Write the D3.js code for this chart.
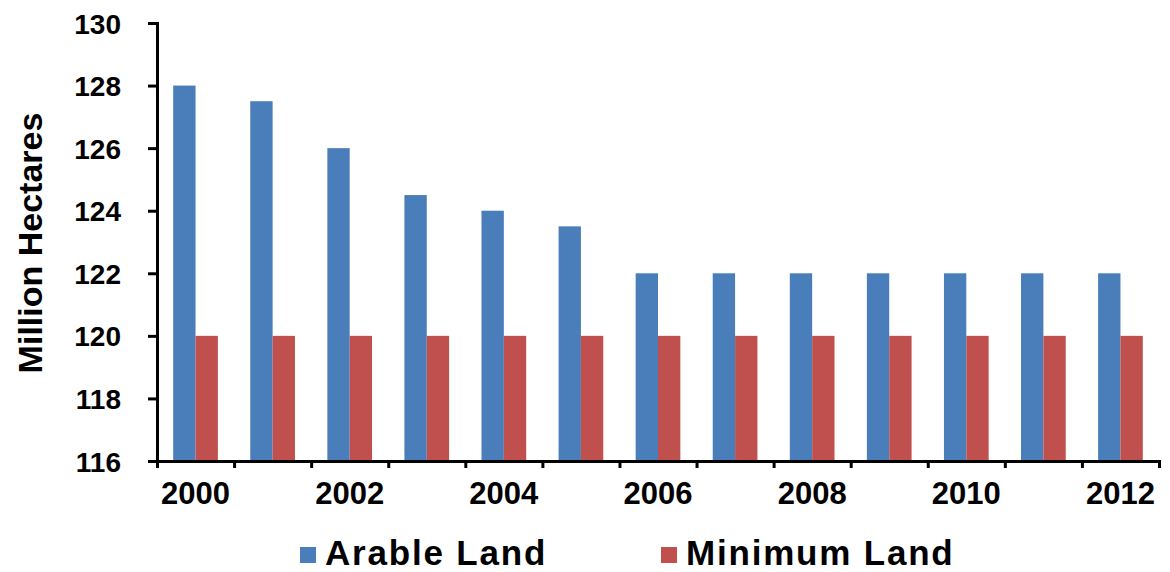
<!DOCTYPE html>
<html>
<head>
<meta charset="utf-8">
<script src="https://cdn.jsdelivr.net/npm/d3@7"></script>
<style>
  html, body { margin: 0; padding: 0; background: #fff; }
  svg { display: block; }
  text { font-family: "Liberation Sans", Arial, sans-serif; font-weight: bold; fill: #000; }
</style>
</head>
<body>
<svg id="chart" width="1170" height="572"></svg>
<script>
// Land area per year (million hectares)
const years = [2000, 2001, 2002, 2003, 2004, 2005, 2006, 2007, 2008, 2009, 2010, 2011, 2012];
const arableLand = [128, 127.5, 126, 124.5, 124, 123.5, 122, 122, 122, 122, 122, 122, 122];
const minimumLand = [120, 120, 120, 120, 120, 120, 120, 120, 120, 120, 120, 120, 120];
const seriesNames = ["Arable Land", "Minimum Land"];
const seriesColors = ["#4a7ebb", "#c0504d"];
const yTicks = [116, 118, 120, 122, 124, 126, 128, 130];
const xLabelYears = [2000, 2002, 2004, 2006, 2008, 2010, 2012];
const yTitle = "Million Hectares";

const svg = d3.select("#chart");
const plot = { left: 157, right: 1159, top: 23, bottom: 461 };

const y = d3.scaleLinear().domain([116, 130]).range([plot.bottom, plot.top]);
const x0 = d3.scaleBand().domain(years).range([plot.left, plot.right])
  .paddingInner(0.42).paddingOuter(0.21);
const x1 = d3.scaleBand().domain(seriesNames).range([0, x0.bandwidth()]);
// category boundaries for the tick marks on the horizontal axis
const xEdge = d3.scaleLinear().domain([0, years.length]).range([plot.left, plot.right]);

const rows = years.map((yr, i) => ({ year: yr, values: [arableLand[i], minimumLand[i]] }));

// bars
const groups = svg.append("g").selectAll("g").data(rows).join("g")
  .attr("transform", d => `translate(${x0(d.year)},0)`);
groups.selectAll("rect")
  .data(d => d.values.map((v, k) => ({ name: seriesNames[k], value: v, k })))
  .join("rect")
  .attr("x", d => x1(d.name))
  .attr("width", x1.bandwidth())
  .attr("y", d => y(d.value))
  .attr("height", d => y(116) - y(d.value))
  .attr("fill", d => seriesColors[d.k]);

// y axis
const yAxis = svg.append("g")
  .attr("transform", `translate(${plot.left},0)`)
  .call(d3.axisLeft(y).tickValues(yTicks).tickSize(9).tickPadding(27).tickFormat(d3.format("d")));
yAxis.selectAll("text").style("font-size", "28px").attr("dy", "0.36em");

// x axis: ticks at category edges
const xAxis = svg.append("g")
  .attr("transform", `translate(0,${plot.bottom})`)
  .call(d3.axisBottom(xEdge).tickValues(d3.range(0, years.length + 1)).tickSize(7).tickFormat(""));

// x axis labels under every other category
const xLabels = svg.append("g")
  .attr("transform", `translate(0,${plot.bottom})`)
  .call(d3.axisBottom(x0).tickValues(xLabelYears).tickSize(0).tickPadding(21));
xLabels.select(".domain").remove();
xLabels.selectAll("text").style("font-size", "31px");

[yAxis, xAxis].forEach(g => {
  g.select(".domain").attr("stroke", "#000").attr("stroke-width", 3);
  g.selectAll(".tick line").attr("stroke", "#000").attr("stroke-width", 3);
});

// y axis title
svg.append("text")
  .attr("transform", `translate(42,243) rotate(-90)`)
  .attr("text-anchor", "middle")
  .style("font-size", "34px")
  .text(yTitle);

// legend
const legendX = [300, 661];
const legend = svg.append("g").selectAll("g").data(seriesNames).join("g")
  .attr("transform", (d, i) => `translate(${legendX[i]},547)`);
legend.append("rect").attr("width", 16).attr("height", 16)
  .attr("fill", (d, i) => seriesColors[i]);
legend.append("text").attr("x", 25).attr("y", 18)
  .style("font-size", "35px")
  .style("letter-spacing", "1.8px")
  .text(d => d);
</script>
</body>
</html>
